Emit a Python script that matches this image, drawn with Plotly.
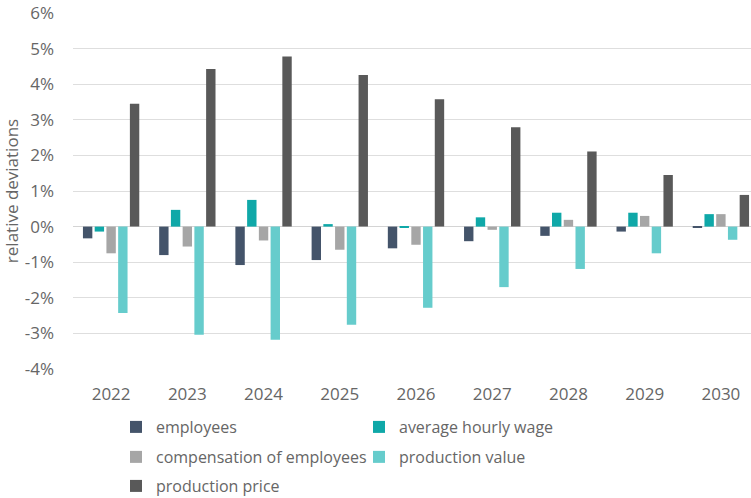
import plotly.graph_objects as go

years = ["2022", "2023", "2024", "2025", "2026", "2027", "2028", "2029", "2030"]

employees = [-0.33, -0.80, -1.08, -0.94, -0.61, -0.41, -0.26, -0.14, -0.03]
average_hourly_wage = [-0.14, 0.47, 0.75, 0.07, -0.02, 0.26, 0.39, 0.39, 0.35]
compensation_of_employees = [-0.75, -0.56, -0.39, -0.65, -0.51, -0.09, 0.19, 0.30, 0.35]
production_value = [-2.43, -3.04, -3.18, -2.76, -2.28, -1.70, -1.19, -0.75, -0.37]
production_price = [3.45, 4.43, 4.78, 4.26, 3.58, 2.79, 2.11, 1.45, 0.89]

y_tick_values = [-4, -3, -2, -1, 0, 1, 2, 3, 4, 5, 6]
y_tick_labels = ["-4%", "-3%", "-2%", "-1%", "0%", "1%", "2%", "3%", "4%", "5%", "6%"]

# (name, values, colour, legend row)
series = [
    ("employees", employees, "#44546a", "legend"),
    ("average hourly wage", average_hourly_wage, "#0fa8a8", "legend"),
    ("compensation of employees", compensation_of_employees, "#a6a6a6", "legend2"),
    ("production value", production_value, "#66cccc", "legend2"),
    ("production price", production_price, "#595959", "legend3"),
]

text_color = "#666666"
font_family = "Open Sans, Segoe UI, Calibri, sans-serif"

fig = go.Figure()
for name, values, color, legend_id in series:
    fig.add_trace(go.Bar(
        x=list(range(len(years))),
        y=values,
        name=name,
        legend=legend_id,
        marker=dict(color=color, line=dict(width=0)),
    ))


def legend_row(y_top):
    return dict(
        orientation="h",
        x=0.0634,
        xanchor="left",
        y=y_top,
        yref="container",
        yanchor="top",
        entrywidth=198,
        entrywidthmode="pixels",
        traceorder="normal",
        itemwidth=30,
        font=dict(family=font_family, size=16, color=text_color),
        bgcolor="rgba(0,0,0,0)",
    )


fig.update_layout(
    width=751,
    height=498,
    margin=dict(l=73, r=0, t=13, b=129, autoexpand=False),
    paper_bgcolor="white",
    plot_bgcolor="white",
    barmode="group",
    bargap=0.23,
    bargroupgap=0.2,
    font=dict(family=font_family, size=17, color=text_color),
    showlegend=True,
    legend=legend_row(0.1767),
    legend2=legend_row(0.1165),
    legend3=legend_row(0.0582),
    xaxis=dict(
        range=[-0.5, 8.395],
        tickvals=list(range(len(years))),
        ticktext=years,
        showgrid=False,
        zeroline=False,
        showline=False,
        ticks="",
        ticklabelstandoff=13,
        tickfont=dict(size=17, color=text_color),
    ),
    yaxis=dict(
        range=[-4, 6],
        tickvals=y_tick_values,
        ticktext=y_tick_labels,
        showgrid=True,
        gridcolor="#dedede",
        gridwidth=1,
        zeroline=True,
        zerolinecolor="#d4d4d4",
        zerolinewidth=1,
        showline=False,
        ticks="",
        ticklabelstandoff=18,
        tickfont=dict(size=17, color=text_color),
        title=dict(text="relative deviations", font=dict(size=17, color=text_color), standoff=6),
    ),
)

fig.write_html("out.html")
